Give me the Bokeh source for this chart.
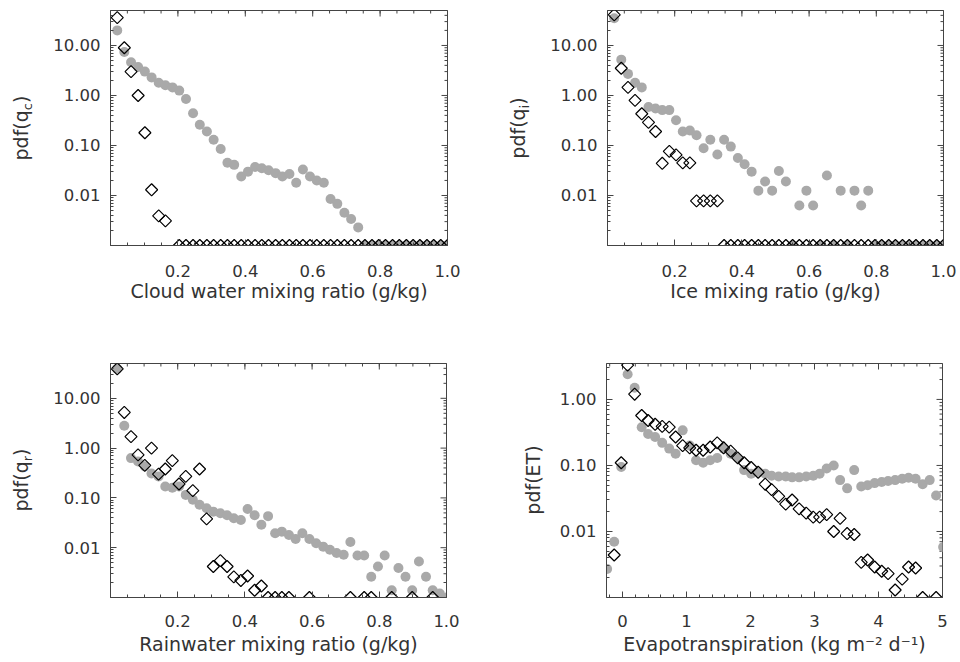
import math
import numpy as np
from bokeh.plotting import figure
from bokeh.models import FixedTicker, Range1d, CustomJSTickFormatter, Div
from bokeh.layouts import column, row
from bokeh.embed import file_html
from bokeh.resources import INLINE

FONT = "DejaVu Sans"
TEXT = "#333333"
LINE = "#444444"
GRAY = "#a9a9a9"

# ---------------- data ----------------
# bin centres of the mixing-ratio histograms (g/kg)
X_MIX = [0.020, 0.041, 0.061, 0.082, 0.102, 0.122, 0.143, 0.163, 0.184, 0.204,
         0.224, 0.245, 0.265, 0.286, 0.306, 0.327, 0.347, 0.367, 0.388, 0.408,
         0.429, 0.449, 0.469, 0.490, 0.510, 0.531, 0.551, 0.571, 0.592, 0.612,
         0.633, 0.653, 0.673, 0.694, 0.714, 0.735, 0.755, 0.776, 0.796, 0.816,
         0.837, 0.857, 0.878, 0.898, 0.918, 0.939, 0.959, 0.980, 1.000]

# 0 = zero pdf (drawn on the bottom axis), None = not drawn
CLOUD_GRAY = [20, 7.4, 4.6, 3.7, 3.0, 2.3, 1.8, 1.6, 1.45, 1.25,
              0.85, 0.44, 0.26, 0.19, 0.13, 0.085, 0.045, 0.041, 0.024, 0.03,
              0.037, 0.035, 0.032, 0.028, 0.024, 0.027, 0.018, 0.033, 0.024, 0.02,
              0.018, 0.0085, 0.0068, 0.0045, 0.0034, 0.0023, 0, 0, 0, 0,
              0, 0, 0, 0, 0, 0, 0, 0, 0]
CLOUD_DIAMOND = [36, 9, 3.0, 1.0, 0.18, 0.013, 0.0039, 0.0031, None, 0,
                 0, 0, 0, 0, 0, 0, 0, 0, 0, 0,
                 0, 0, 0, 0, 0, 0, 0, 0, 0, 0,
                 0, 0, 0, 0, 0, 0, 0, 0, 0, 0,
                 0, 0, 0, 0, 0, 0, 0, 0, 0]

ICE_GRAY = [35, 5.2, 2.7, 1.8, 1.45, 0.59, 0.55, 0.51, 0.51, 0.32,
            0.19, 0.2, 0.16, 0.088, 0.13, 0.066, 0.13, 0.095, 0.056, 0.042,
            0.03, 0.0125, 0.019, 0.0125, 0.031, 0.019, 0, 0.0063, 0.0125, 0.0063,
            0, 0.025, 0, 0.0125, 0, 0.0125, 0.0063, 0.0125, 0, 0,
            0, 0, 0, 0, 0, 0, 0, 0, 0]
ICE_DIAMOND = [41, 3.5, 1.45, 0.8, 0.43, 0.29, 0.19, 0.044, 0.076, 0.065,
               0.045, 0.045, 0.0078, 0.0078, 0.0078, 0.0078, 0, 0, 0, 0,
               0, 0, 0, 0, 0, 0, 0, 0, 0, 0,
               0, 0, 0, 0, 0, 0, 0, 0, 0, 0,
               0, 0, 0, 0, 0, 0, 0, 0, 0]

RAIN_GRAY = [39, 2.8, 0.63, 0.54, 0.43, 0.31, 0.27, 0.17, 0.16, 0.17,
             0.115, 0.092, 0.073, 0.062, 0.053, 0.049, 0.045, 0.039, 0.036, 0.06,
             0.045, 0.029, 0.043, 0.0195, 0.021, 0.018, 0.015, 0.0195, 0.015, 0.0123,
             0.0105, 0.0091, 0.0078, 0.0072, 0.013, 0.007, 0.007, 0.0026, 0.0042, 0.007,
             0.0014, 0.0039, 0.0026, 0.0014, 0.0053, 0.0026, 0.0014, 0.0012, 0]
RAIN_DIAMOND = [39, 5.2, 1.7, 0.73, 0.45, 1.0, 0.30, 0.38, 0.56, 0.19,
                0.27, 0.14, 0.38, 0.038, 0.0042, 0.0055, 0.0042, 0.0026, 0.0022, 0.0027,
                0.0014, 0.0017, 0, 0, 0, 0, None, None, 0, None,
                None, None, None, None, 0, None, 0, 0, None, None,
                0, None, None, 0, None, None, 0, None, None]

# bin centres of the evapotranspiration histogram (kg m-2 d-1)
X_ET = [-0.24, -0.13, -0.02, 0.08, 0.19, 0.30, 0.40, 0.51, 0.62, 0.73,
        0.83, 0.94, 1.05, 1.15, 1.26, 1.37, 1.48, 1.58, 1.69, 1.80,
        1.90, 2.01, 2.12, 2.23, 2.33, 2.44, 2.55, 2.65, 2.76, 2.87,
        2.98, 3.08, 3.19, 3.30, 3.40, 3.51, 3.62, 3.73, 3.83, 3.94,
        4.05, 4.15, 4.26, 4.37, 4.47, 4.58, 4.69, 4.80, 4.90, 5.01]
ET_GRAY = [0.0027, 0.007, 0.095, 2.4, 1.5, 0.38, 0.3, 0.27, 0.22, 0.18,
           0.15, 0.34, 0.2, 0.12, 0.11, 0.12, 0.13, 0.18, 0.15, 0.13,
           0.085, 0.075, 0.08, 0.075, 0.07, 0.068, 0.068, 0.066, 0.066, 0.068,
           0.07, 0.075, 0.09, 0.1, 0.06, 0.045, 0.085, 0.048, 0.05, 0.054,
           0.056, 0.058, 0.06, 0.063, 0.065, 0.063, 0.052, 0.06, 0.035, 0.0058]
ET_DIAMOND = [None, 0.0044, 0.11, 3.3, 1.2, 0.57, 0.48, 0.42, 0.39, 0.38,
              0.27, 0.2, 0.185, 0.17, 0.17, 0.19, 0.22, 0.185, 0.165, 0.13,
              0.11, 0.093, 0.079, 0.052, 0.043, 0.034, 0.026, 0.03, 0.022, 0.019,
              0.0165, 0.0165, 0.018, 0.01, 0.0158, 0.0093, 0.009, 0.0034, 0.0037, 0.0029,
              0.0025, 0.0023, 0.0013, 0.0019, 0.0029, 0.0028, 0, None, 0, None]

MIX_XTICKS = [0.2, 0.4, 0.6, 0.8, 1.0]
ET_XTICKS = [0, 1, 2, 3, 4, 5]
Y_TICKS_MIX = [0.01, 0.1, 1, 10]
Y_TICKS_ET = [0.01, 0.1, 1]

# ---------------- helpers ----------------


def prep(vals, floor):
    out = []
    for v in vals:
        if v is None:
            out.append(np.nan)
        elif v <= 0:
            out.append(floor)
        else:
            out.append(v)
    return out


def log_minor(lo, hi):
    m = []
    for e in range(-4, 3):
        for k in range(2, 10):
            v = k * 10.0 ** e
            if lo <= v <= hi:
                m.append(v)
    return m


def style_axis(ax, standoff):
    ax.major_tick_in = 6
    ax.major_tick_out = 0
    ax.minor_tick_in = 3
    ax.minor_tick_out = 0
    ax.axis_line_color = LINE
    ax.major_tick_line_color = LINE
    ax.minor_tick_line_color = LINE
    ax.major_label_text_font = FONT
    ax.major_label_text_font_size = "16.5px"
    ax.major_label_text_color = TEXT
    ax.major_label_standoff = standoff


def ylabel_div(width, height, main, sub, tail, cx, cy):
    """Rotated y-axis title (reads bottom-to-top) with a real subscript."""
    sub_html = ""
    if sub:
        sub_html = ('<span style="font-size:13px;position:relative;top:4px;">'
                    f'{sub}</span>')
    html = (f'<div style="position:relative;width:{width}px;height:{height}px;'
            'overflow:visible;">'
            f'<div style="position:absolute;left:{cx}px;top:{cy}px;'
            'transform:translate(-50%,-50%) rotate(-90deg);white-space:nowrap;'
            f"font-family:'{FONT}';font-size:19px;line-height:19px;"
            f'color:{TEXT};">{main}{sub_html}{tail}</div></div>')
    return Div(text=html, width=width, height=height, margin=(0, 0, 0, 0))


def panel(x, gray, diam, xr, yr, fw, fh, borders, xticks, xminor, xfmt,
          yticks, xlabel, xstand, lstand):
    bl, br, bt, bb = borders
    p = figure(frame_width=fw, frame_height=fh,
               x_range=Range1d(*xr), y_range=Range1d(*yr),
               y_axis_type="log", output_backend="svg", toolbar_location=None,
               min_border_left=bl, min_border_right=br,
               min_border_top=bt, min_border_bottom=bb)
    p.xgrid.visible = False
    p.ygrid.visible = False
    p.outline_line_color = LINE
    p.background_fill_color = "white"
    p.border_fill_color = "white"

    yminor = log_minor(yr[0], yr[1])
    xt = FixedTicker(ticks=xticks, minor_ticks=xminor)
    yt = FixedTicker(ticks=yticks, minor_ticks=yminor)

    xa = p.xaxis[0]
    xa.ticker = xt
    xa.formatter = CustomJSTickFormatter(code=xfmt)
    style_axis(xa, xstand)
    xa.axis_label = xlabel
    xa.axis_label_text_font = FONT
    xa.axis_label_text_font_size = "19px"
    xa.axis_label_text_font_style = "normal"
    xa.axis_label_text_color = TEXT
    xa.axis_label_standoff = lstand

    ya = p.yaxis[0]
    ya.ticker = yt
    ya.formatter = CustomJSTickFormatter(code="return tick.toFixed(2);")
    style_axis(ya, 10)

    # mirrored inward ticks on the top and right edges (half clipped by frame)
    p.scatter(xticks, [yr[1]] * len(xticks), marker="dash", angle=math.pi / 2,
              size=12, line_color=LINE, line_width=1)
    p.scatter(xminor, [yr[1]] * len(xminor), marker="dash", angle=math.pi / 2,
              size=6, line_color=LINE, line_width=1)
    p.scatter([xr[1]] * len(yticks), yticks, marker="dash",
              size=12, line_color=LINE, line_width=1)
    p.scatter([xr[1]] * len(yminor), yminor, marker="dash",
              size=6, line_color=LINE, line_width=1)

    floor = yr[0]
    p.scatter(x, prep(gray, floor), marker="circle", size=10,
              fill_color=GRAY, line_color=None)
    p.scatter(x, prep(diam, floor), marker="square", angle=math.pi / 4,
              size=8.5, fill_color=None, line_color="black", line_width=1.2)
    return p


MIX_MINOR = [round(0.05 * i, 2) for i in range(21)]
ET_MINOR = [round(-0.2 + 0.2 * i, 1) for i in range(27)]
FMT1 = "return tick.toFixed(1);"
FMT0 = "return tick.toFixed(0);"

H1, H2 = 320, 339
LW_L, LW_R = 50, 65

p1 = panel(X_MIX, CLOUD_GRAY, CLOUD_DIAMOND, (0, 1), (0.001, 50), 337, 235,
           (110 - LW_L, 33, 10, 75), MIX_XTICKS, MIX_MINOR, FMT1, Y_TICKS_MIX,
           "Cloud water mixing ratio (g/kg)", 19, 0)
p2 = panel(X_MIX, ICE_GRAY, ICE_DIAMOND, (0, 1), (0.001, 50), 336, 235,
           (127 - LW_R, 17, 10, 75), MIX_XTICKS, MIX_MINOR, FMT1, Y_TICKS_MIX,
           "Ice mixing ratio (g/kg)", 19, 0)
p3 = panel(X_MIX, RAIN_GRAY, RAIN_DIAMOND, (0, 1), (0.001, 50), 336, 234,
           (110 - LW_L, 34, 43, 62), MIX_XTICKS, MIX_MINOR, FMT1, Y_TICKS_MIX,
           "Rainwater mixing ratio (g/kg)", 17, 3)
p4 = panel(X_ET, ET_GRAY, ET_DIAMOND, (-0.25, 5.0), (0.001, 3.5), 336, 234,
           (126 - LW_R, 18, 43, 62), ET_XTICKS, ET_MINOR, FMT0, Y_TICKS_ET,
           "Evapotranspiration (kg m\u207b\u00b2 d\u207b\u00b9)", 17, 3)

l1 = ylabel_div(LW_L, H1, "pdf(q", "c", ")", 22.4, 127.5)
l2 = ylabel_div(LW_R, H1, "pdf(q", "i", ")", 39.4, 127.5)
l3 = ylabel_div(LW_L, H2, "pdf(q", "r", ")", 22.4, 160)
l4 = ylabel_div(LW_R, H2, "pdf(ET)", "", "", 53.4, 160)

layout = column(row(l1, p1, l2, p2), row(l3, p3, l4, p4))
open("out.html", "w").write(file_html(layout, INLINE))
